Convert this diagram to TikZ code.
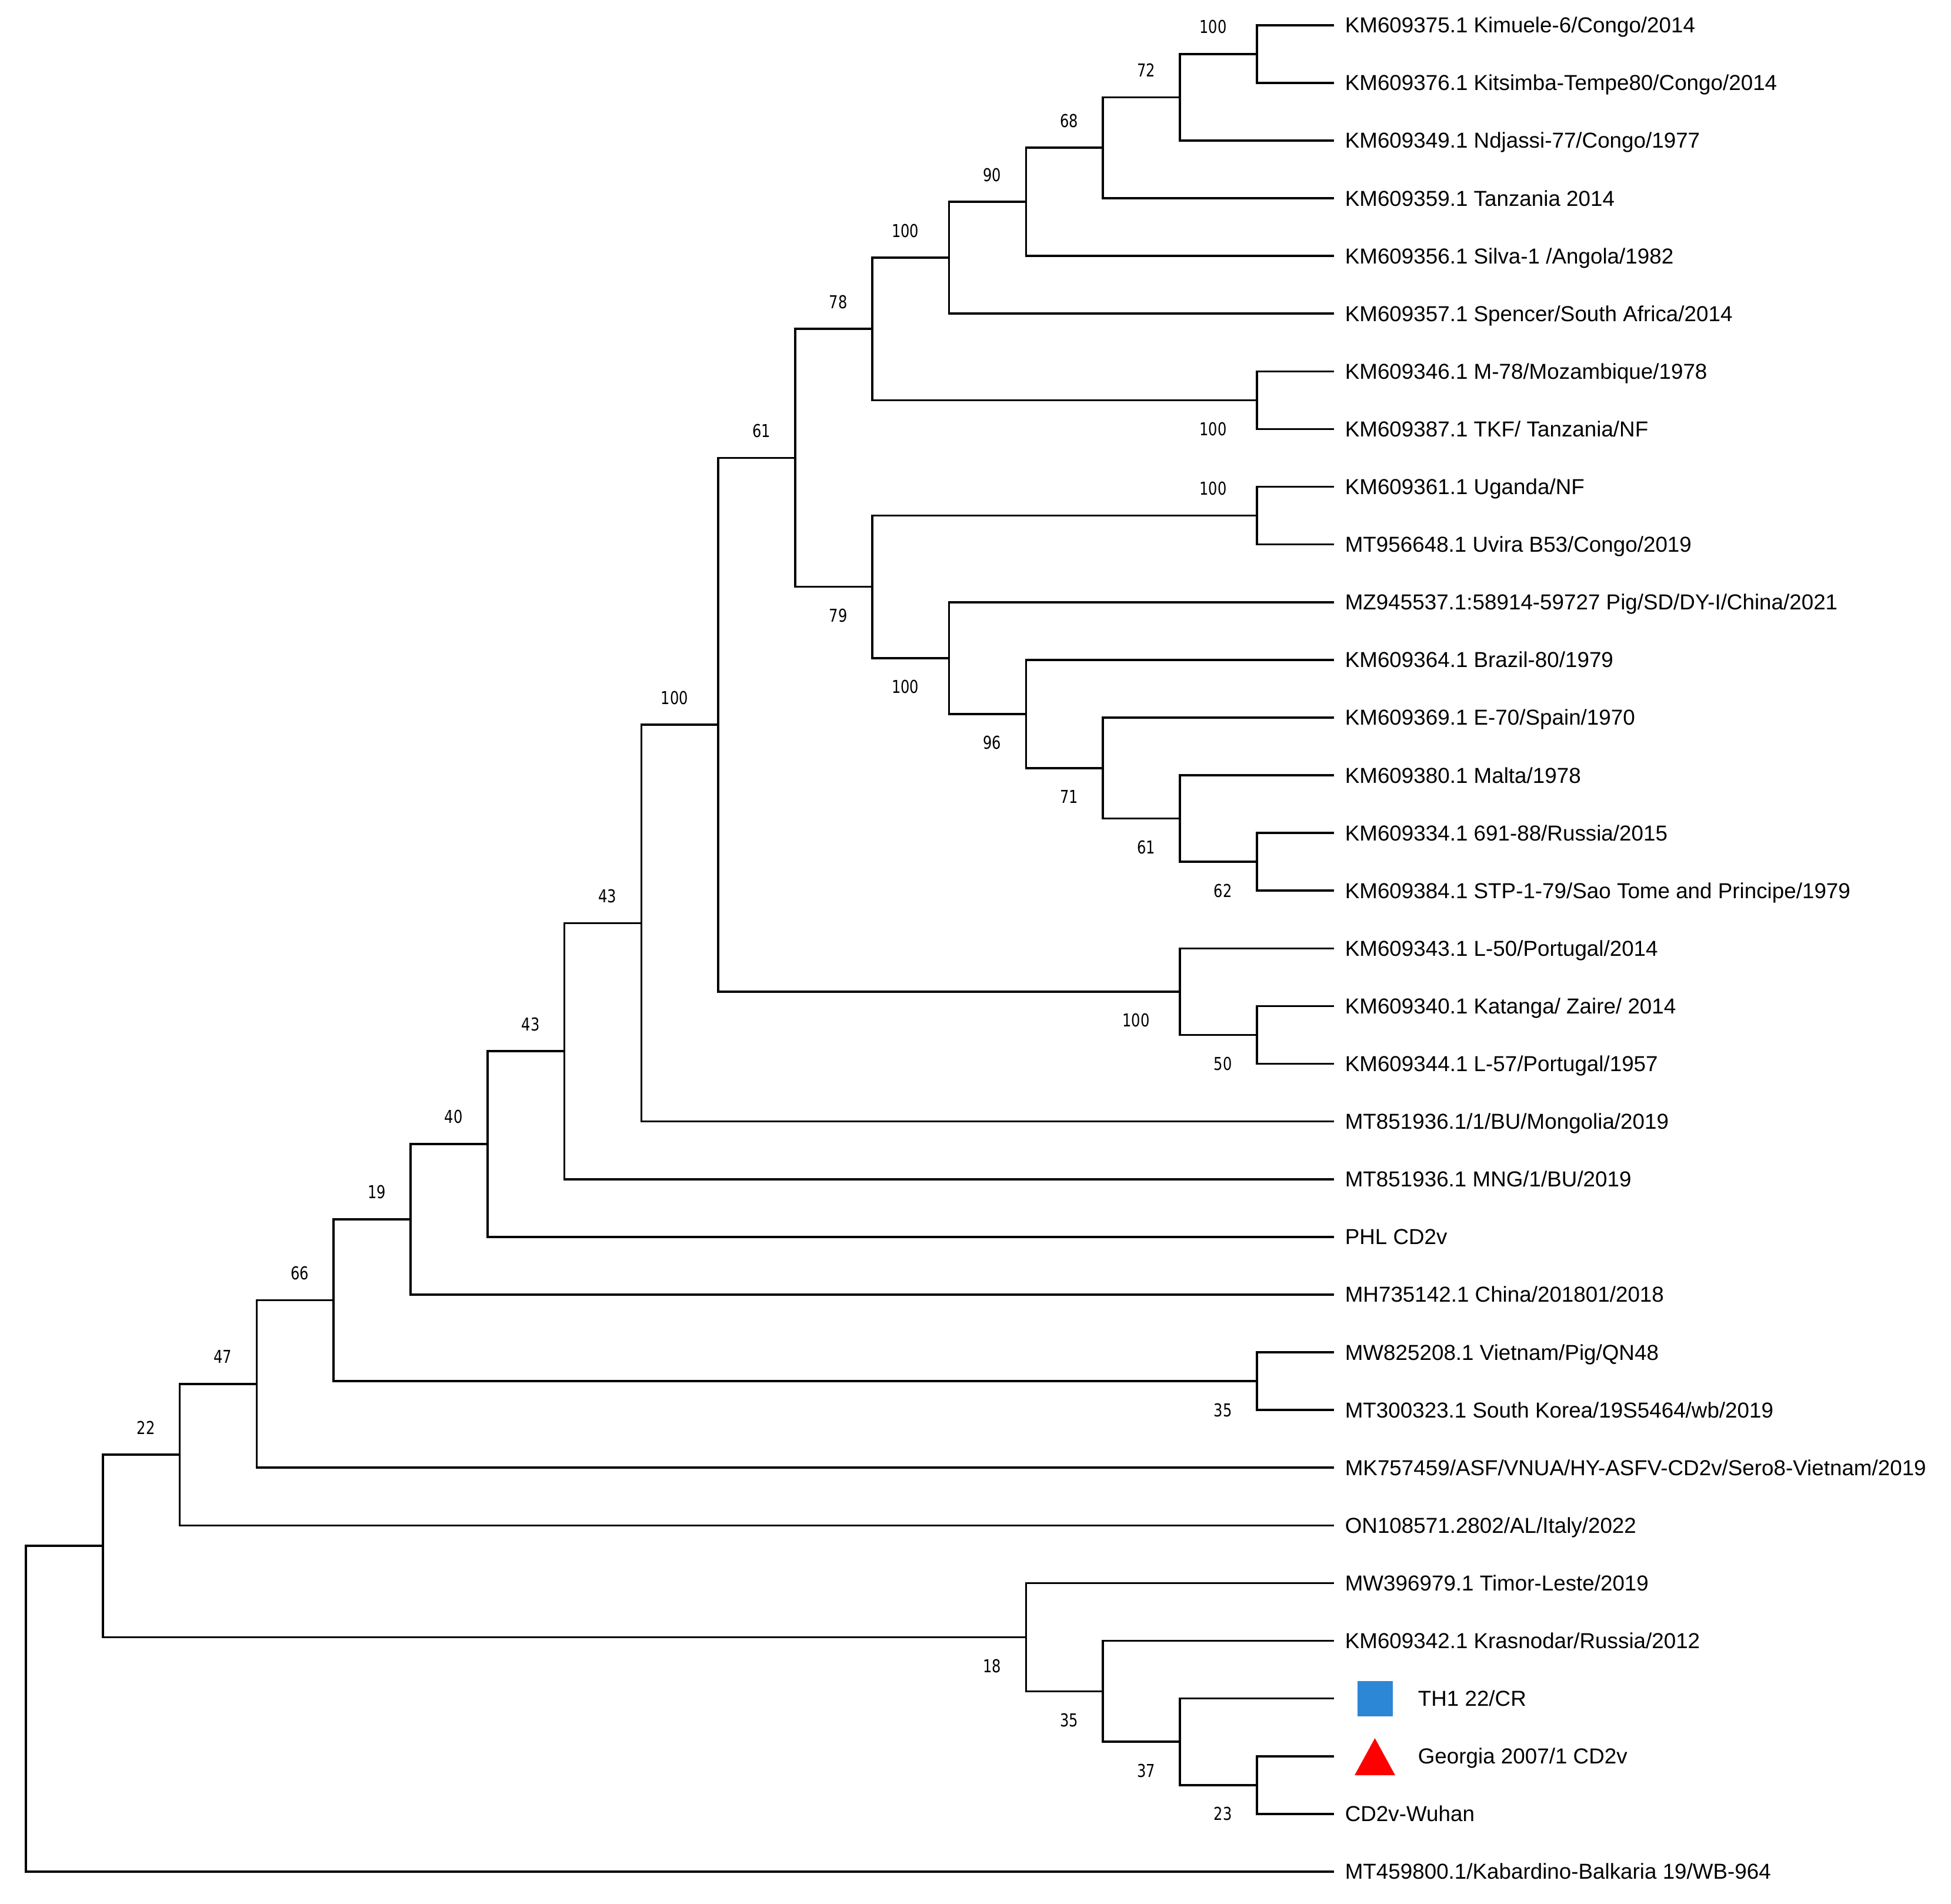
\documentclass[tikz,border=0pt]{standalone}
\usepackage{fontspec}
\setmainfont{Liberation Sans}
\newfontfamily\bsfam[FakeStretch=0.8]{DejaVu Sans}
\usetikzlibrary{calc}
\definecolor{sqblue}{RGB}{44,135,214}
\newcommand{\leaffont}{\fontsize{9.2pt}{11pt}\selectfont}
\newcommand{\bsfont}{\bsfam\fontsize{7.55pt}{9pt}\selectfont}
\begin{document}
\begin{tikzpicture}[x=0.25pt,y=-24.525pt,
  branch/.style={line width=0.9pt,black},
  leaf/.style={anchor=base west,inner sep=0pt,yshift=-3.25pt,font=\leaffont},
  bs/.style={anchor=center,inner sep=0pt,font=\bsfont}]
\useasboundingbox (0,-0.43527) rectangle (3317,32.5515);
% leaf tips
\foreach \i in {0,...,32} \coordinate (L\i) at (2268,\i);
% internal nodes
\coordinate (n0) at (44.0,29.178);
\coordinate (n1) at (174.8,26.35596);
\coordinate (n2) at (305.6,24.77441);
\coordinate (n3) at (436.4,23.54883);
\coordinate (n4) at (567.2,22.09766);
\coordinate (n5) at (698.0,20.69531);
\coordinate (n6) at (828.8,19.390625);
\coordinate (n7) at (959.6,17.78125);
\coordinate (n8) at (1090.4,15.5625);
\coordinate (n9) at (1221.2,12.125);
\coordinate (n10) at (1352.0,7.5);
\coordinate (a11) at (1482.8,5.265625);
\coordinate (c11) at (1482.8,9.734375);
\coordinate (a12) at (1613.6,4.03125);
\coordinate (a13) at (1744.4,3.0625);
\coordinate (a14) at (1875.2,2.125);
\coordinate (a15) at (2006.0,1.25);
\coordinate (a16) at (2136.8,0.5);
\coordinate (b16) at (2136.8,6.5);
\coordinate (c16) at (2136.8,8.5);
\coordinate (d12) at (1613.6,10.96875);
\coordinate (d13) at (1744.4,11.9375);
\coordinate (d14) at (1875.2,12.875);
\coordinate (d15) at (2006.0,13.75);
\coordinate (e16) at (2136.8,14.5);
\coordinate (f15) at (2006.0,16.75);
\coordinate (f16) at (2136.8,17.5);
\coordinate (g16) at (2136.8,23.5);
\coordinate (h13) at (1744.4,27.9375);
\coordinate (h14) at (1875.2,28.875);
\coordinate (h15) at (2006.0,29.75);
\coordinate (h16) at (2136.8,30.5);
% branches
\foreach \p/\c in {n0/n1,n0/L32,n1/n2,n1/h13,n2/n3,n2/L26,n3/n4,n3/L25,
  n4/n5,n4/g16,n5/n6,n5/L22,g16/L23,g16/L24,n6/n7,n6/L21,n7/n8,n7/L20,
  n8/n9,n8/L19,n9/n10,n9/f15,f15/L16,f15/f16,f16/L17,f16/L18,
  n10/a11,n10/c11,a11/a12,a11/b16,c11/c16,c11/d12,a12/a13,a12/L5,
  b16/L6,b16/L7,a13/a14,a13/L4,a14/a15,a14/L3,a15/a16,a15/L2,a16/L0,a16/L1,
  c16/L8,c16/L9,d12/L10,d12/d13,d13/L11,d13/d14,d14/L12,d14/d15,
  d15/L13,d15/e16,e16/L14,e16/L15,h13/L27,h13/h14,h14/L28,h14/h15,
  h15/L29,h15/h16,h16/L30,h16/L31}
  \draw[branch] (\p) |- (\c);
% bootstrap values
\foreach \n/\v/\d/\s in {n2/22/-57.5/11.5pt, n3/47/-57.5/11.5pt, n4/66/-57.5/11.5pt,
  n5/19/-57.5/11.5pt, g16/35/-57.5/-12.25pt, n6/40/-57.5/11.5pt, n7/43/-57.5/11.5pt,
  n8/43/-57.5/11.5pt, n9/100/-74.5/11.5pt, f15/100/-74.5/-12.25pt, f16/50/-57.5/-12.25pt,
  n10/61/-57.5/11.5pt, a11/78/-57.5/11.5pt, c11/79/-57.5/-12.25pt, a12/100/-74.5/11.5pt,
  b16/100/-74.5/-12.25pt, a13/90/-57.5/11.5pt, a14/68/-57.5/11.5pt, a15/72/-57.5/11.5pt,
  a16/100/-74.5/11.5pt, c16/100/-74.5/11.5pt, d12/100/-74.5/-12.25pt, d13/96/-57.5/-12.25pt,
  d14/71/-57.5/-12.25pt, d15/61/-57.5/-12.25pt, e16/62/-57.5/-12.25pt, h13/18/-57.5/-12.25pt,
  h14/35/-57.5/-12.25pt, h15/37/-57.5/-12.25pt, h16/23/-57.5/-12.25pt}
  \path (\n) ++(\d,0) node[bs,yshift=\s] (b-\n) {\v};
% leaf labels
\node[leaf] (T0) at (2286,0) {KM609375.1 Kimuele-6/Congo/2014};
\node[leaf] (T1) at (2286,1) {KM609376.1 Kitsimba-Tempe80/Congo/2014};
\node[leaf] (T2) at (2286,2) {KM609349.1 Ndjassi-77/Congo/1977};
\node[leaf] (T3) at (2286,3) {KM609359.1 Tanzania 2014};
\node[leaf] (T4) at (2286,4) {KM609356.1 Silva-1 /Angola/1982};
\node[leaf] (T5) at (2286,5) {KM609357.1 Spencer/South Africa/2014};
\node[leaf] (T6) at (2286,6) {KM609346.1 M-78/Mozambique/1978};
\node[leaf] (T7) at (2286,7) {KM609387.1 TKF/ Tanzania/NF};
\node[leaf] (T8) at (2286,8) {KM609361.1 Uganda/NF};
\node[leaf] (T9) at (2286,9) {MT956648.1 Uvira B53/Congo/2019};
\node[leaf] (T10) at (2286,10) {MZ945537.1:58914-59727 Pig/SD/DY-I/China/2021};
\node[leaf] (T11) at (2286,11) {KM609364.1 Brazil-80/1979};
\node[leaf] (T12) at (2286,12) {KM609369.1 E-70/Spain/1970};
\node[leaf] (T13) at (2286,13) {KM609380.1 Malta/1978};
\node[leaf] (T14) at (2286,14) {KM609334.1 691-88/Russia/2015};
\node[leaf] (T15) at (2286,15) {KM609384.1 STP-1-79/Sao Tome and Principe/1979};
\node[leaf] (T16) at (2286,16) {KM609343.1 L-50/Portugal/2014};
\node[leaf] (T17) at (2286,17) {KM609340.1 Katanga/ Zaire/ 2014};
\node[leaf] (T18) at (2286,18) {KM609344.1 L-57/Portugal/1957};
\node[leaf] (T19) at (2286,19) {MT851936.1/1/BU/Mongolia/2019};
\node[leaf] (T20) at (2286,20) {MT851936.1 MNG/1/BU/2019};
\node[leaf] (T21) at (2286,21) {PHL CD2v};
\node[leaf] (T22) at (2286,22) {MH735142.1 China/201801/2018};
\node[leaf] (T23) at (2286,23) {MW825208.1 Vietnam/Pig/QN48};
\node[leaf] (T24) at (2286,24) {MT300323.1 South Korea/19S5464/wb/2019};
\node[leaf] (T25) at (2286,25) {MK757459/ASF/VNUA/HY-ASFV-CD2v/Sero8-Vietnam/2019};
\node[leaf] (T26) at (2286,26) {ON108571.2802/AL/Italy/2022};
\node[leaf] (T27) at (2286,27) {MW396979.1 Timor-Leste/2019};
\node[leaf] (T28) at (2286,28) {KM609342.1 Krasnodar/Russia/2012};
\node[leaf] (T29) at (2410,29) {TH1 22/CR};
\node[leaf] (T30) at (2410,30) {Georgia 2007/1 CD2v};
\node[leaf] (T31) at (2286,31) {CD2v-Wuhan};
\node[leaf] (T32) at (2286,32) {MT459800.1/Kabardino-Balkaria 19/WB-964};
% markers
\node[fill=sqblue,inner sep=0pt,minimum size=15pt] (sq) at (2337.5,29) {};
\fill[red] (2303,30.33) -- (2337.5,29.687) -- (2372,30.33) -- cycle;
\end{tikzpicture}
\end{document}
